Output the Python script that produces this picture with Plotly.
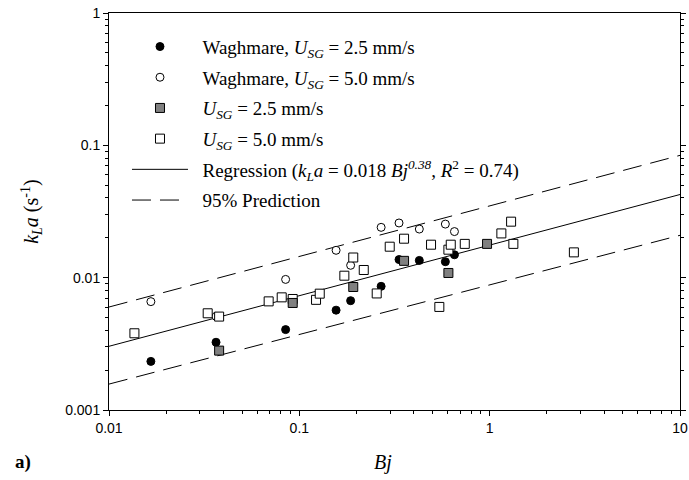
import plotly.graph_objects as go

# ---- data ----
wag25_x = [0.0166, 0.0365, 0.0847, 0.156, 0.186, 0.269, 0.334, 0.427, 0.585, 0.653]
wag25_y = [0.00233, 0.00325, 0.00405, 0.00568, 0.0067, 0.0086, 0.0137, 0.0135, 0.0132, 0.0149]

wag50_x = [0.0166, 0.0365, 0.0847, 0.156, 0.186, 0.269, 0.334, 0.427, 0.585, 0.653]
wag50_y = [0.00659, 0.0051, 0.0097, 0.0161, 0.0124, 0.0240, 0.0259, 0.0233, 0.0254, 0.0223]

g25_x = [0.0379, 0.0923, 0.192, 0.355, 0.607, 0.969]
g25_y = [0.00281, 0.00644, 0.0085, 0.0134, 0.01085, 0.0180]

o50_x = [0.0136, 0.033, 0.0379, 0.069, 0.0808, 0.0923, 0.1224, 0.128, 0.1724, 0.192,
         0.218, 0.255, 0.2985, 0.355, 0.492, 0.544, 0.607, 0.6245, 0.74, 1.152,
         1.296, 1.332, 2.77]
o50_y = [0.0038, 0.00538, 0.00508, 0.00662, 0.0071, 0.0069, 0.0068, 0.00757, 0.01035, 0.0142,
         0.01143, 0.0076, 0.01714, 0.0197, 0.01775, 0.00601, 0.01627, 0.01775, 0.0180, 0.0216,
         0.0265, 0.0180, 0.01553]

reg_x = [0.01, 10]
reg_y = [0.00303, 0.0425]
upper_x = [0.01, 10]
upper_y = [0.0060, 0.084]
lower_x = [0.01, 10]
lower_y = [0.00157, 0.0209]

x_ticks = [0.01, 0.1, 1, 10]
x_ticktext = ["0.01", "0.1", "1", "10"]
y_ticks = [0.001, 0.01, 0.1, 1]
y_ticktext = ["0.001", "0.01", "0.1", "1"]

pad = "&nbsp;&nbsp;"
names = [
    pad + "Waghmare, <i>U</i><sub><i>SG</i></sub> = 2.5 mm/s",
    pad + "Waghmare, <i>U</i><sub><i>SG</i></sub> = 5.0 mm/s",
    pad + "<i>U</i><sub><i>SG</i></sub> = 2.5 mm/s",
    pad + "<i>U</i><sub><i>SG</i></sub> = 5.0 mm/s",
    pad + "Regression (<i>k</i><sub><i>L</i></sub><i>a</i> = 0.018 <i>Bj</i><sup><i>0.38</i></sup>, <i>R</i><sup>2</sup> = 0.74)",
    pad + "95% Prediction",
]

SERIF = "Liberation Serif"
SANS = "Liberation Sans"

fig = go.Figure()
dash = "19px,9px"
fig.add_trace(go.Scatter(x=reg_x, y=reg_y, mode="lines", name=names[4], legendrank=5, legendgroup="g5",
                         line=dict(color="black", width=1)))
fig.add_trace(go.Scatter(x=upper_x, y=upper_y, mode="lines", name=names[5], legendrank=6, legendgroup="g6",
                         line=dict(color="black", width=1, dash=dash)))
fig.add_trace(go.Scatter(x=lower_x, y=lower_y, mode="lines", name=names[5], showlegend=False, legendgroup="g6",
                         line=dict(color="black", width=1, dash=dash)))

fig.add_trace(go.Scatter(x=wag25_x, y=wag25_y, mode="markers", name=names[0], legendrank=1, legendgroup="g1",
                         marker=dict(symbol="circle", size=8, color="black",
                                     line=dict(color="black", width=1))))
fig.add_trace(go.Scatter(x=wag50_x, y=wag50_y, mode="markers", name=names[1], legendrank=2, legendgroup="g2",
                         marker=dict(symbol="circle", size=8, color="white",
                                     line=dict(color="black", width=1))))
fig.add_trace(go.Scatter(x=o50_x, y=o50_y, mode="markers", name=names[3], legendrank=4, legendgroup="g4",
                         marker=dict(symbol="square", size=9, color="white",
                                     line=dict(color="black", width=1))))
fig.add_trace(go.Scatter(x=g25_x, y=g25_y, mode="markers", name=names[2], legendrank=3, legendgroup="g3",
                         marker=dict(symbol="square", size=9, color="#808080",
                                     line=dict(color="black", width=1))))

minor_x = [m * 10 ** e for e in range(-2, 1) for m in range(2, 10)]
minor_y = [m * 10 ** e for e in range(-3, 0) for m in range(2, 10)]

tickfont = dict(family=SANS, size=14, color="black")

fig.update_xaxes(type="log", range=[-2, 1], tickmode="array", tickvals=x_ticks, ticktext=x_ticktext,
                 ticks="outside", ticklen=5, tickwidth=1, tickcolor="black",
                 showline=True, linecolor="black", linewidth=1, mirror=True,
                 showgrid=False, zeroline=False, tickfont=tickfont,
                 minor=dict(tickmode="array", tickvals=minor_x, ticks="outside", ticklen=3,
                            tickcolor="black", tickwidth=1, showgrid=False))
fig.update_yaxes(type="log", range=[-3, 0], tickmode="array", tickvals=y_ticks, ticktext=y_ticktext,
                 ticks="outside", ticklen=5, tickwidth=1, tickcolor="black",
                 showline=True, linecolor="black", linewidth=1, mirror="ticks",
                 showgrid=False, zeroline=False, tickfont=tickfont,
                 minor=dict(tickmode="array", tickvals=minor_y, ticks="outside", ticklen=3,
                            tickcolor="black", tickwidth=1, showgrid=False))

titlefont = dict(family=SERIF, size=20, color="black")
fig.add_annotation(text="<i>Bj</i>", xref="paper", yref="paper", x=0.48, y=-0.131,
                   xanchor="center", yanchor="middle", showarrow=False, font=titlefont)
fig.add_annotation(text="<i>k</i><sub><i>L</i></sub><i>a</i> (s<sup>-1</sup>)", xref="paper", yref="paper",
                   x=-0.136, y=0.50, xanchor="center", yanchor="middle", textangle=-90,
                   showarrow=False, font=titlefont)
fig.add_annotation(text="<b>a)</b>", xref="paper", yref="paper", x=-0.168, y=-0.131,
                   xanchor="left", yanchor="middle", showarrow=False,
                   font=dict(family=SERIF, size=19, color="black"))

fig.update_layout(
    width=689, height=480,
    margin=dict(l=109, r=9, t=13, b=70, autoexpand=False),
    paper_bgcolor="white", plot_bgcolor="white",
    showlegend=True,
    legend=dict(x=0.0315, y=0.963, xanchor="left", yanchor="top", bgcolor="rgba(0,0,0,0)",
                itemwidth=56, tracegroupgap=3,
                font=dict(family=SERIF, size=19, color="black")),
)

fig.write_html("out.html")
